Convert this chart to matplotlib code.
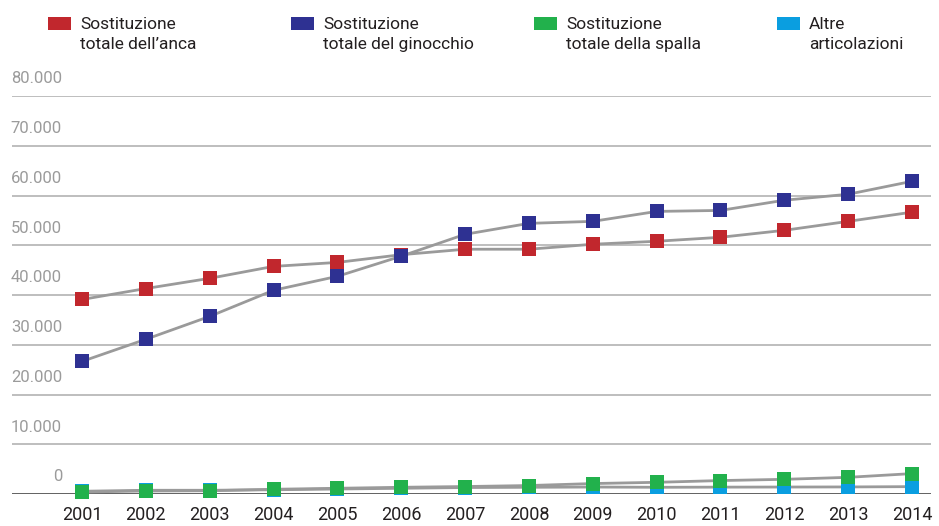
import matplotlib
matplotlib.use("Agg")
import matplotlib.pyplot as plt
from matplotlib.patches import Rectangle
import matplotlib.transforms as mtransforms

# --- data -------------------------------------------------------------
years = [2001, 2002, 2003, 2004, 2005, 2006, 2007,
         2008, 2009, 2010, 2011, 2012, 2013, 2014]

anca = [39100, 41300, 43350, 45750, 46550, 48100, 49200,
        49200, 50200, 50800, 51600, 53000, 54800, 56650]
ginocchio = [26650, 31100, 35700, 40950, 43750, 47800, 52200,
             54400, 54800, 56800, 57000, 59050, 60250, 62850]
spalla = [400, 600, 650, 950, 1150, 1350, 1500,
          1700, 2100, 2350, 2700, 2950, 3350, 4100]
altre = [550, 750, 750, 850, 1000, 1150, 1300,
         1350, 1400, 1350, 1380, 1400, 1420, 1480]

series_labels = ["Sostituzione\ntotale dell\u2019anca",
                 "Sostituzione\ntotale del ginocchio",
                 "Sostituzione\ntotale della spalla",
                 "Altre\narticolazioni"]
series_colors = ["#c1272d", "#2e3192", "#22b14c", "#0a9ee0"]

y_ticks = [0, 10000, 20000, 30000, 40000, 50000, 60000, 70000, 80000]
y_tick_labels = ["0", "10.000", "20.000", "30.000", "40.000",
                 "50.000", "60.000", "70.000", "80.000"]

plt.rcParams["font.family"] = ["Roboto", "DejaVu Sans"]

W, H = 939, 526
fig = plt.figure(figsize=(W / 100, H / 100), dpi=100)

left_px, right_px = 12, 931
bottom_px, top_px = 494, 96
ax = fig.add_axes([left_px / W, (H - bottom_px) / H,
                   (right_px - left_px) / W, (bottom_px - top_px) / H])

px_per_year = (912 - 82) / 13
ax.set_xlim(2001 - (82 - left_px) / px_per_year,
            2014 + (right_px - 912) / px_per_year)
ax.set_ylim(0, 80000)

# horizontal grid
for v in y_ticks[1:]:
    ax.axhline(v, color="#b3b3b3", lw=1.2, zorder=1)
ax.axhline(0, color="#555555", lw=1.3, zorder=1)

for s in ax.spines.values():
    s.set_visible(False)

# connecting lines, then square markers on top
all_series = [anca, ginocchio, spalla, altre]
draw_order = [0, 1, 3, 2]
for vals in all_series:
    ax.plot(years, vals, color="#9a9a9a", lw=2.0, zorder=2,
            solid_capstyle="butt", clip_on=False)
for i in draw_order:
    ax.plot(years, all_series[i], ls="none", marker="s", markersize=9.6,
            markerfacecolor=series_colors[i], markeredgewidth=0,
            zorder=3 + (1 if i == 2 else 0), clip_on=False)

# y tick labels sit above each gridline, right-aligned
trans = mtransforms.blended_transform_factory(fig.transFigure, ax.transData)
offset = mtransforms.offset_copy(trans, fig=fig, x=0, y=7, units="points")
for v, lab in zip(y_ticks, y_tick_labels):
    ax.text(62 / W, v, lab, transform=offset, ha="right", va="bottom",
            fontsize=12, color="#9b9b9b")

ax.set_yticks([])
ax.set_xticks(years)
ax.set_xticklabels([str(y) for y in years], fontsize=13, color="#231f20")
ax.tick_params(axis="x", length=0, pad=9)

# legend across the top
leg_x = [48, 291, 534, 777]
for x0, lab, col in zip(leg_x, series_labels, series_colors):
    fig.patches.append(Rectangle((x0 / W, (H - 30) / H), 23 / W, 13 / H,
                                 transform=fig.transFigure,
                                 facecolor=col, edgecolor="none"))
    fig.text((x0 + 32) / W, (H - 17) / H, lab, ha="left", va="top",
             fontsize=12.5, color="#231f20", linespacing=1.38)

fig.savefig("out.png", dpi=100)
